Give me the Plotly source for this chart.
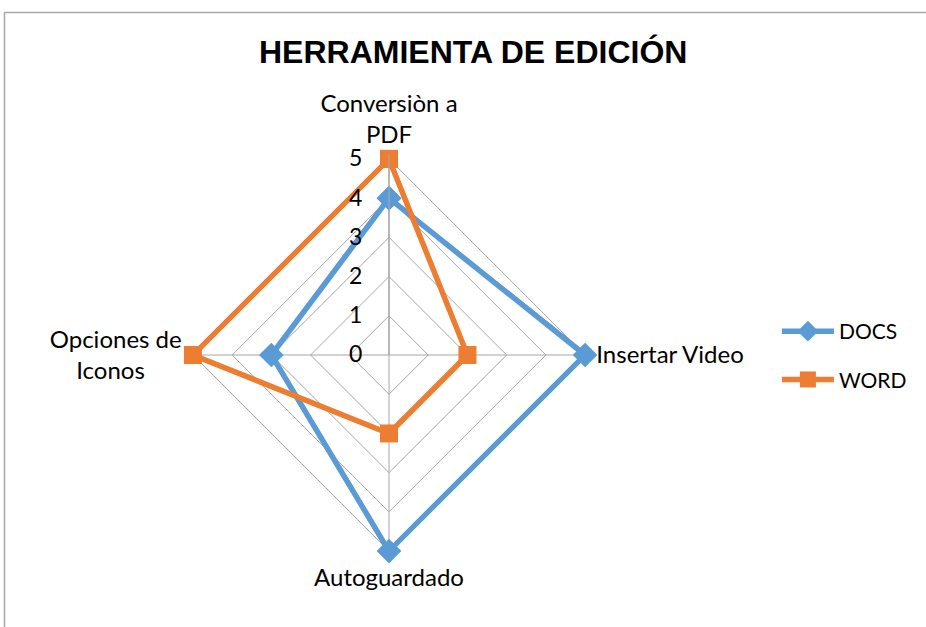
import plotly.graph_objects as go

NB = "&nbsp;"
categories = ["Conversiòn a<br>PDF", "Insertar Video", "Autoguardado", "Opciones de<br>Iconos" + NB * 6]
docs_values = [4, 5, 5, 3]
word_values = [5, 2, 2, 5]
radial_ticks = [0, 1, 2, 3, 4, 5]
radial_max = 5.1  # a little headroom so the r=5 edges are not clipped

FONT = "Lato"

def closed(v):
    return v + v[:1]

fig = go.Figure()
fig.add_trace(go.Scatterpolar(
    r=closed(docs_values), theta=closed(categories), name="DOCS",
    mode="lines+markers", legendgroup="a", cliponaxis=False,
    line=dict(color="#5B9BD5", width=5.5),
    marker=dict(symbol="diamond", size=19, color="#5B9BD5"),
))
fig.add_trace(go.Scatterpolar(
    r=closed(word_values), theta=closed(categories), name="WORD",
    mode="lines+markers", legendgroup="b", cliponaxis=False,
    line=dict(color="#ED7D31", width=5.5),
    marker=dict(symbol="square", size=18, color="#ED7D31"),
))

grid = "#A6A6A6"
fig.update_layout(
    width=926, height=627,
    margin=dict(l=0, r=0, t=0, b=0),
    paper_bgcolor="white", plot_bgcolor="white",
    font=dict(family=FONT, size=23, color="black"),
    title=dict(text="<b>HERRAMIENTA DE EDICIÓN</b>", x=0.511, xanchor="center",
               y=0.918, yanchor="middle",
               font=dict(family="Liberation Sans", size=32, color="black")),
    polar=dict(
        domain=dict(x=[0.2041, 0.6361], y=[0.1148, 0.7528]),
        bgcolor="white",
        gridshape="linear",
        radialaxis=dict(range=[0, radial_max], tickvals=radial_ticks, angle=90, tickangle=90,
                        side="counterclockwise",
                        showline=True, linecolor=grid, linewidth=1.2,
                        gridcolor=grid, gridwidth=1,
                        ticks="outside", ticklen=18, tickcolor="rgba(0,0,0,0)",
                        tickfont=dict(family=FONT, size=23, color="black")),
        angularaxis=dict(rotation=90, direction="clockwise",
                         showline=False, gridcolor=grid, gridwidth=1.2,
                         ticks="outside", ticklen=2, tickcolor="rgba(0,0,0,0)",
                         tickfont=dict(family=FONT, size=24, color="black")),
    ),
    legend=dict(x=0.839, y=0.433, xanchor="left", yanchor="middle",
                font=dict(family=FONT, size=21, color="black"),
                tracegroupgap=18, itemwidth=52),
    shapes=[
        dict(type="line", xref="paper", yref="paper", x0=4.5/926, x1=1.05,
             y0=1 - 12.5/627, y1=1 - 12.5/627, line=dict(color="#A6A6A6", width=1.5)),
        dict(type="line", xref="paper", yref="paper", x0=4.5/926, x1=4.5/926,
             y0=-0.05, y1=1 - 12.5/627, line=dict(color="#A6A6A6", width=1.5)),
    ],
)

fig.write_html("out.html", config={"displayModeBar": False},
               post_script="document.body.style.margin='0';document.body.style.overflow='hidden';")
